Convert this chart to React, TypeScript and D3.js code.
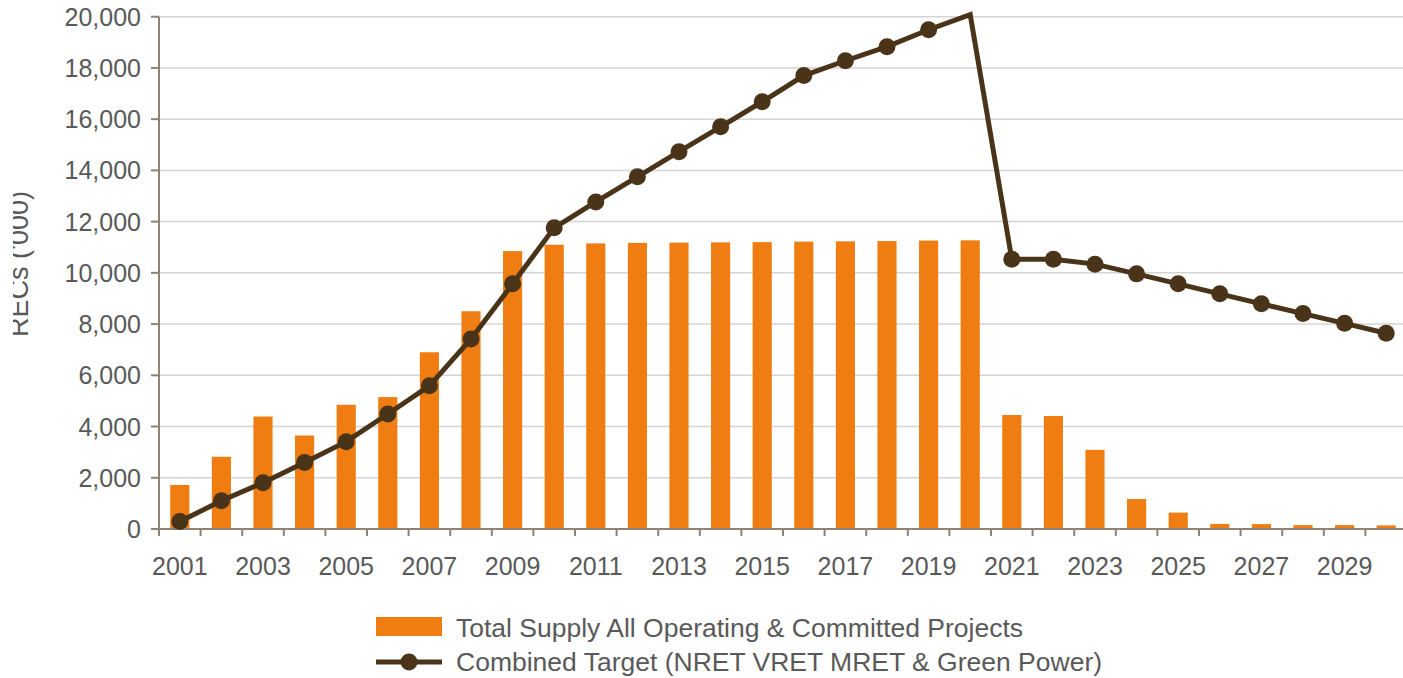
import React from "react";
import * as d3 from "d3";

const years: string[] = d3.range(2001, 2031).map(String);
const supply: number[] = [
  1720, 2820, 4390, 3650, 4850, 5150, 6900, 8500, 10850, 11100,
  11150, 11170, 11180, 11190, 11200, 11220, 11230, 11240, 11260, 11270,
  4450, 4410, 3090, 1170, 640, 200, 190, 150, 150, 140,
];
const target: number[] = [
  290, 1100, 1810, 2600, 3410, 4490, 5590, 7420, 9570, 11760,
  12770, 13750, 14730, 15700, 16680, 17700, 18280, 18830, 19490, 20080,
  10530, 10530, 10340, 9960, 9570, 9180, 8790, 8410, 8030, 7640,
];
const yTicks: number[] = d3.range(0, 20001, 2000);
const legendLabels: string[] = [
  "Total Supply All Operating & Committed Projects",
  "Combined Target (NRET VRET MRET & Green Power)",
];
const yTitle = "RECs ('000)";

const W = 1403;
const H = 678;
const left = 159;
const right = 1407;
const top = 16.7;
const bottom = 529;
const ORANGE = "#EF7D12";
const BROWN = "#4A3419";
const TEXT = "#595959";
const AXIS = "#8C8276";
const GRID = "#D4D4D4";
const FONT = "'Liberation Sans', Arial, sans-serif";

export default function App() {
  const x = d3.scaleBand<string>().domain(years).range([left, right]).paddingInner(0.54).paddingOuter(0.27);
  const y = d3.scaleLinear().domain([0, 20000]).range([bottom, top]);
  const step = x.step();
  const cx = (yr: string) => (x(yr) as number) + x.bandwidth() / 2;
  const line = d3
    .line<number>()
    .x((_, i) => cx(years[i]))
    .y((d) => y(d));
  const boundaries = d3.range(0, years.length + 1).map((i) => left + i * step);

  return (
    <svg
      width={W}
      height={H}
      style={{ position: "absolute", left: 0, top: 0, background: "#fff" }}
      fontFamily={FONT}
    >
      <defs>
        <clipPath id="lblclip">
          <rect x={13} y={0} width={100} height={H} />
        </clipPath>
      </defs>
      {/* gridlines */}
      {yTicks.map((t) => (
        <line key={t} x1={left} x2={W} y1={y(t)} y2={y(t)} stroke={GRID} strokeWidth={1.5} />
      ))}
      {/* bars */}
      {supply.map((v, i) => (
        <rect
          key={years[i]}
          x={x(years[i])}
          y={y(v)}
          width={x.bandwidth()}
          height={bottom - y(v)}
          fill={ORANGE}
        />
      ))}
      {/* axes */}
      <line x1={left} x2={left} y1={top} y2={bottom} stroke={AXIS} strokeWidth={2} />
      <line x1={left} x2={W} y1={bottom} y2={bottom} stroke={AXIS} strokeWidth={2} />
      {yTicks.map((t) => (
        <g key={"yt" + t}>
          <line x1={left - 8} x2={left} y1={y(t)} y2={y(t)} stroke={AXIS} strokeWidth={2} />
          <text x={141} y={y(t) + 9} textAnchor="end" fontSize={25} fill={TEXT}>
            {d3.format(",")(t)}
          </text>
        </g>
      ))}
      {boundaries.map((b, i) => (
        <line key={"xt" + i} x1={b} x2={b} y1={bottom} y2={bottom + 7} stroke={AXIS} strokeWidth={2} />
      ))}
      {years.map((yr, i) =>
        i % 2 === 0 ? (
          <text key={"xl" + yr} x={cx(yr)} y={575} textAnchor="middle" fontSize={25} fill={TEXT}>
            {yr}
          </text>
        ) : null
      )}
      {/* target line */}
      <path d={line(target) || ""} fill="none" stroke={BROWN} strokeWidth={5} strokeLinejoin="miter" />
      {target.map((v, i) =>
        v <= 20000 ? <circle key={"m" + i} cx={cx(years[i])} cy={y(v)} r={8.5} fill={BROWN} /> : null
      )}
      {/* y title */}
      <g clipPath="url(#lblclip)">
        <text
          transform={`translate(28,264) rotate(-90)`}
          textAnchor="middle"
          fontSize={27}
          fill={TEXT}
        >
          {yTitle}
        </text>
      </g>
      {/* legend */}
      <rect x={376} y={617} width={66} height={19} fill={ORANGE} />
      <text x={456} y={637} fontSize={26.5} fill={TEXT}>
        {legendLabels[0]}
      </text>
      <line x1={376} x2={442} y1={662} y2={662} stroke={BROWN} strokeWidth={5} />
      <circle cx={409} cy={662} r={8.5} fill={BROWN} />
      <text x={456} y={671} fontSize={26.5} fill={TEXT}>
        {legendLabels[1]}
      </text>
    </svg>
  );
}
